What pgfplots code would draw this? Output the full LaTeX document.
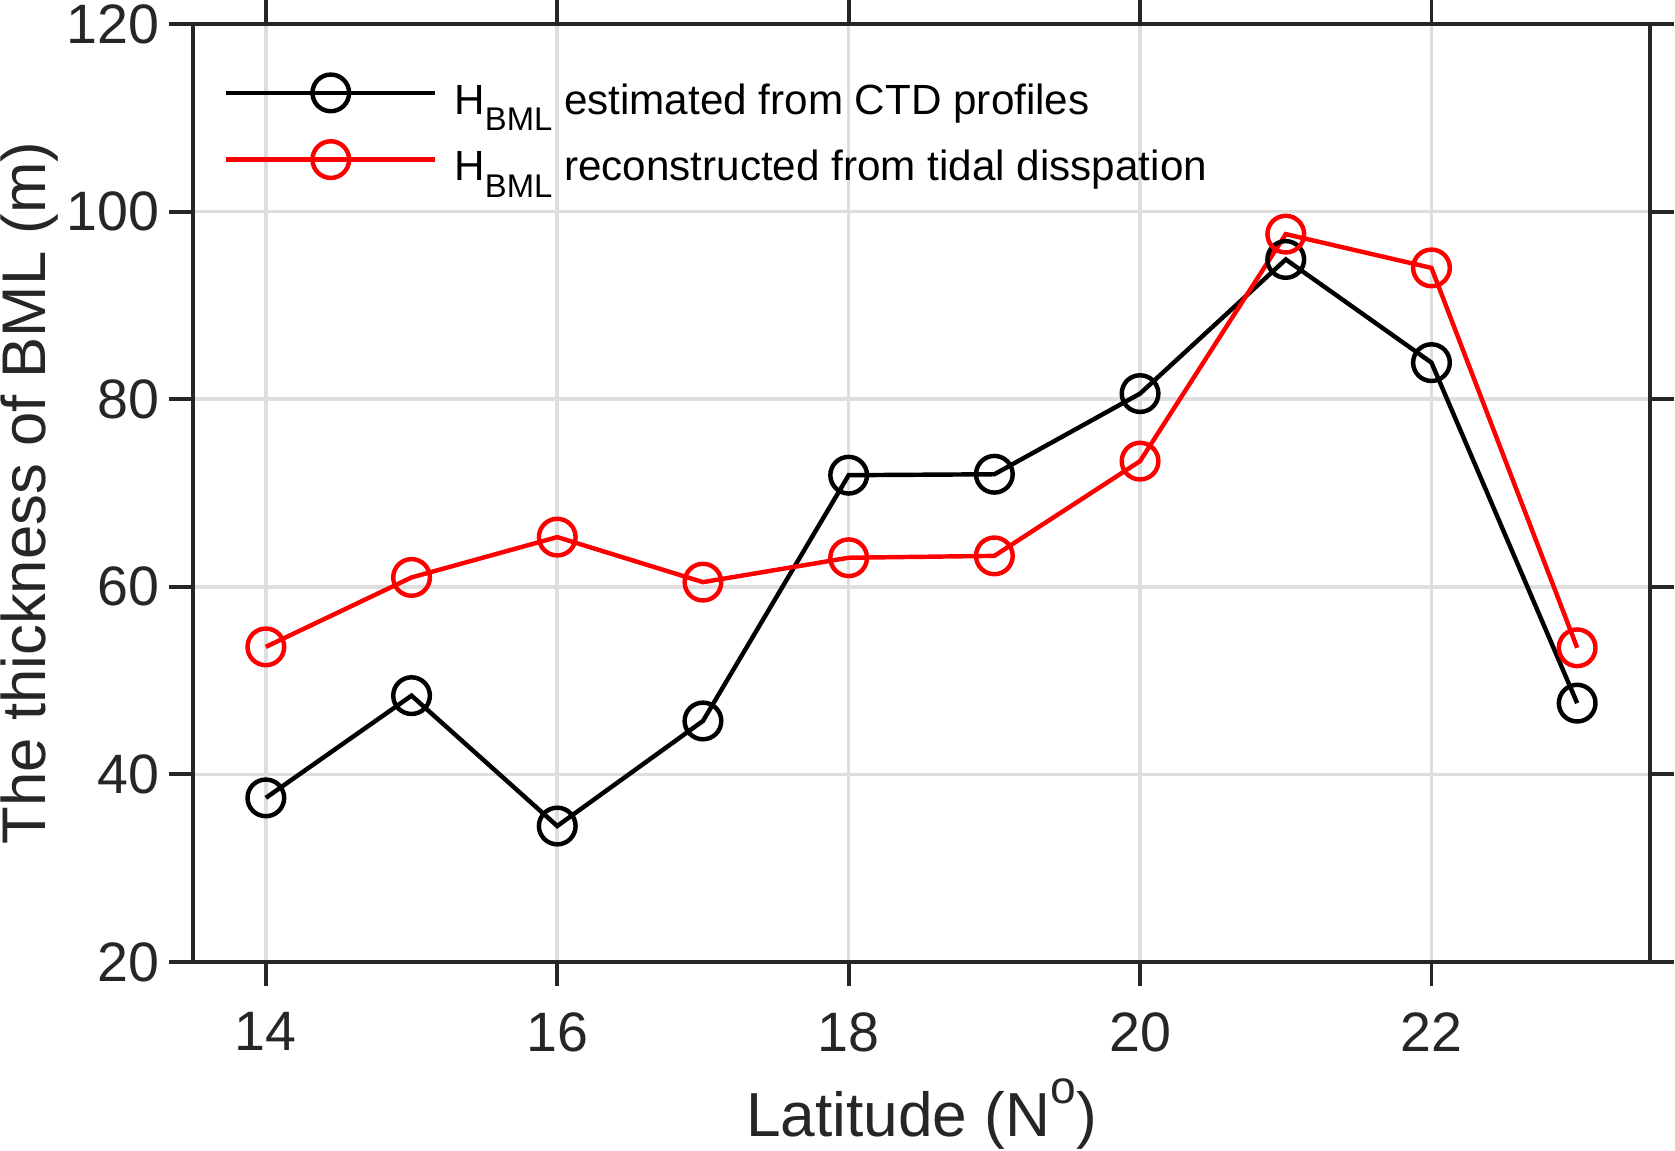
\documentclass[border=0pt]{standalone}
\usepackage{fontspec}
\setmainfont{Liberation Sans}
\usepackage{pgfplots}
\pgfplotsset{compat=1.18}
\definecolor{txt}{RGB}{38,38,38}
\definecolor{gridc}{RGB}{222,222,222}
\newcommand{\sub}[1]{\raisebox{-3.0pt}{\fontsize{5.9}{7}\selectfont #1}}
\begin{document}
\begin{tikzpicture}
\begin{axis}[
  scale only axis, width=262.26pt, height=168.84pt,
  xmin=13.5, xmax=23.5, ymin=20, ymax=120,
  xtick={14,16,18,20,22}, ytick={20,40,60,80,100,120},
  tick align=outside, major tick length=4.32pt,
  axis line style={txt, line width=0.7pt},
  every tick/.style={txt, line width=0.7pt},
  grid=major, major grid style={gridc, line width=0.65pt},
  ticklabel style={font=\fontsize{10}{12}\selectfont, text=txt},
  yticklabel style={inner xsep=1.6pt},
  xticklabel style={yshift=-1.2pt},
  /pgf/number format/assume math mode=true,
  xlabel={Latitude (N\raisebox{5.9pt}{\fontsize{8.3}{9}\selectfont o})},
  ylabel={The thickness of BML (m)},
  label style={font=\fontsize{11.2}{13}\selectfont, text=txt},
  ylabel style={font=\fontsize{11.1}{13}\selectfont},
  xlabel style={at={(rel axis cs:0.5,0)}, anchor=base, yshift=-31.32pt},
  ylabel style={at={(rel axis cs:0,0.5)}, anchor=north, yshift=34.74pt, inner sep=0pt},
  legend cell align=left,
  legend style={draw=none, fill=none, at={(rel axis cs:0,1)}, anchor=north west,
    xshift=5.4pt, yshift=-8.9pt, font=\fontsize{7.6}{9}\selectfont, text=black,
    inner sep=0pt, row sep=3.4pt, nodes={inner sep=0pt},
    /tikz/every odd column/.style={column sep=3.06pt}},
  legend image code/.code={\draw[mark repeat=2,mark phase=2,#1] plot coordinates {(0pt,1.8pt) (18.8pt,1.8pt) (37.6pt,1.8pt)};},
]
\addplot[black, line width=0.8pt, mark=o, mark size=3.3pt, mark options={line width=0.8pt}] coordinates {
(14,37.5) (15,48.4) (16,34.5) (17,45.7) (18,71.9) (19,72.0) (20,80.6) (21,94.9) (22,83.9) (23,47.6)};
\addlegendentry{H\sub{BML} estimated from CTD profiles}
\addplot[red, line width=0.8pt, mark=o, mark size=3.3pt, mark options={line width=0.8pt}] coordinates {
(14,53.6) (15,61.0) (16,65.3) (17,60.5) (18,63.1) (19,63.3) (20,73.4) (21,97.6) (22,94.0) (23,53.5)};
\addlegendentry{H\sub{BML} reconstructed from tidal disspation}
\coordinate (sw) at (rel axis cs:0,0);
\coordinate (ne) at (rel axis cs:1,1);
\end{axis}
\pgfresetboundingbox
\path ([shift={(-34.74pt,-33.84pt)}]sw) rectangle ([shift={(4.5pt,4.32pt)}]ne);
\end{tikzpicture}
\end{document}
